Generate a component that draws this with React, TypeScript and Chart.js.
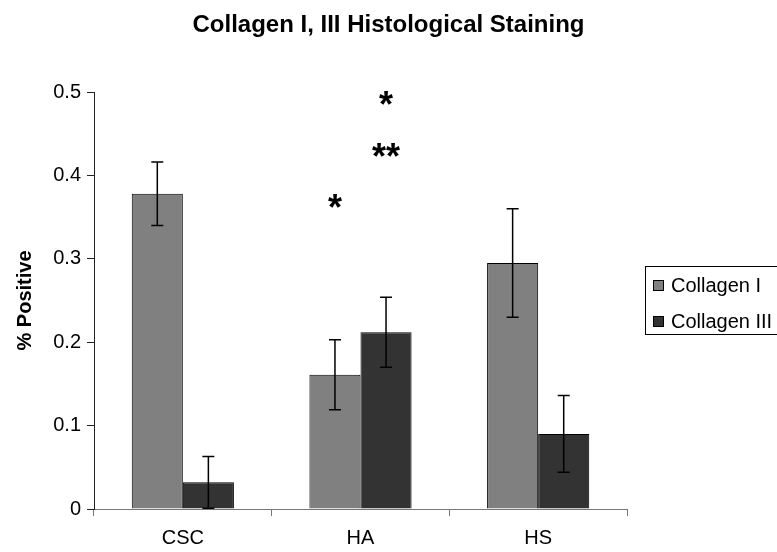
import { useEffect, useRef } from "react";
import { Chart, registerables } from "chart.js";

Chart.register(...registerables);

const FONT = "'Liberation Sans', Arial, Helvetica, sans-serif";

const titleText = "Collagen I, III Histological Staining";
const yAxisTitle = "% Positive";

const categories = ["CSC", "HA", "HS"];
const seriesNames = ["Collagen I", "Collagen III"];
const collagenI = [0.378, 0.161, 0.295];
const collagenIII = [0.032, 0.212, 0.09];
const collagenIErr = [0.038, 0.042, 0.065];
const collagenIIIErr = [0.031, 0.042, 0.046];
const seriesColors = ["#808080", "#333333"];
const yTicks = [0, 0.1, 0.2, 0.3, 0.4, 0.5];

// Significance marks: which category/series they sit over, their height, and text
const sigCategory = [1, 1, 1];
const sigSeries = [1, 1, 0];
const sigValue = [0.493, 0.43, 0.369];
const sigText = ["*", "**", "*"];

const errorBarsPlugin = {
  id: "errorBars",
  afterDatasetsDraw(chart: any) {
    const ctx = chart.ctx;
    const yScale = chart.scales.y;
    const errs = [collagenIErr, collagenIIIErr];
    const vals = [collagenI, collagenIII];
    ctx.save();
    ctx.strokeStyle = "#000";
    ctx.lineWidth = 1.5;
    for (let d = 0; d < 2; d++) {
      const meta = chart.getDatasetMeta(d);
      meta.data.forEach((bar: any, i: number) => {
        const x = bar.x;
        const top = yScale.getPixelForValue(vals[d][i] + errs[d][i]);
        const bot = yScale.getPixelForValue(Math.max(0, vals[d][i] - errs[d][i]));
        ctx.beginPath();
        ctx.moveTo(x, top);
        ctx.lineTo(x, bot);
        ctx.moveTo(x - 6, top);
        ctx.lineTo(x + 6, top);
        ctx.moveTo(x - 6, bot);
        ctx.lineTo(x + 6, bot);
        ctx.stroke();
      });
    }
    ctx.restore();
  },
};

const annotationsPlugin = {
  id: "annotations",
  afterDraw(chart: any) {
    const ctx = chart.ctx;
    const yScale = chart.scales.y;
    ctx.save();

    // chart title
    ctx.fillStyle = "#000";
    ctx.font = `bold 24px ${FONT}`;
    ctx.textAlign = "center";
    ctx.textBaseline = "alphabetic";
    ctx.fillText(titleText, chart.width / 2, 32);

    // significance asterisks
    ctx.font = `bold 36px ${FONT}`;
    for (let k = 0; k < sigText.length; k++) {
      const bar = chart.getDatasetMeta(sigSeries[k]).data[sigCategory[k]];
      const y = yScale.getPixelForValue(sigValue[k]);
      const m = ctx.measureText(sigText[k]);
      const asc = m.actualBoundingBoxAscent;
      const desc = m.actualBoundingBoxDescent;
      ctx.fillText(sigText[k], bar.x, y + (asc - desc) / 2);
    }

    // legend box
    const lx = 645.5;
    const ly = 266.5;
    ctx.strokeStyle = "#000";
    ctx.lineWidth = 1;
    ctx.strokeRect(lx, ly, 200, 68);
    ctx.font = `20px ${FONT}`;
    ctx.textAlign = "left";
    ctx.textBaseline = "middle";
    seriesNames.forEach((name, i) => {
      const cy = 285 + i * 36;
      ctx.fillStyle = seriesColors[i];
      ctx.fillRect(653, cy - 5, 10, 10);
      ctx.strokeStyle = "#000";
      ctx.strokeRect(653.5, cy - 4.5, 10, 10);
      ctx.fillStyle = "#000";
      ctx.fillText(name, 671, cy + 1);
    });

    ctx.restore();
  },
};

export default function App() {
  const canvasRef = useRef<HTMLCanvasElement | null>(null);

  useEffect(() => {
    if (!canvasRef.current) return;
    const chart = new Chart(canvasRef.current, {
      type: "bar",
      data: {
        labels: categories,
        datasets: [
          {
            label: seriesNames[0],
            data: collagenI,
            backgroundColor: seriesColors[0],
            borderColor: "#000",
            borderWidth: 1,
          },
          {
            label: seriesNames[1],
            data: collagenIII,
            backgroundColor: seriesColors[1],
            borderColor: "#000",
            borderWidth: 1,
          },
        ],
      },
      options: {
        responsive: false,
        animation: false,
        devicePixelRatio: 1,
        layout: { padding: { top: 92, right: 150, bottom: 0, left: 0 } },
        datasets: { bar: { categoryPercentage: 0.575, barPercentage: 1 } },
        plugins: {
          legend: { display: false },
          title: { display: false },
          tooltip: { enabled: false },
        },
        scales: {
          x: {
            afterFit: (s: any) => {
              s.height = 43;
            },
            grid: {
              display: true,
              drawOnChartArea: false,
              drawTicks: true,
              tickLength: 7,
              offset: true,
              color: "#777",
            },
            border: { display: true, color: "#777", width: 1 },
            ticks: {
              color: "#000",
              padding: 10,
              font: { family: FONT, size: 20 },
            },
          },
          y: {
            min: 0,
            max: 0.5,
            afterFit: (s: any) => {
              s.width = 94;
            },
            afterBuildTicks: (s: any) => {
              s.ticks = yTicks.map((v) => ({ value: v }));
            },
            grid: {
              display: true,
              drawOnChartArea: false,
              drawTicks: true,
              tickLength: 7,
              color: "#222",
            },
            border: { display: true, color: "#222", width: 1 },
            ticks: {
              color: "#000",
              padding: 6,
              font: { family: FONT, size: 20 },
              callback: (v: any) => (Number(v) === 0 ? "0" : Number(v).toFixed(1)),
            },
            title: {
              display: true,
              text: yAxisTitle,
              color: "#000",
              padding: { top: 13, bottom: 0 },
              font: { family: FONT, size: 20, weight: "bold" },
            },
          },
        },
      },
      plugins: [errorBarsPlugin, annotationsPlugin],
    });
    return () => chart.destroy();
  }, []);

  return (
    <div style={{ position: "absolute", left: 0, top: 0, width: 777, height: 552, background: "#fff" }}>
      <canvas ref={canvasRef} width={777} height={552} style={{ display: "block" }} />
    </div>
  );
}
